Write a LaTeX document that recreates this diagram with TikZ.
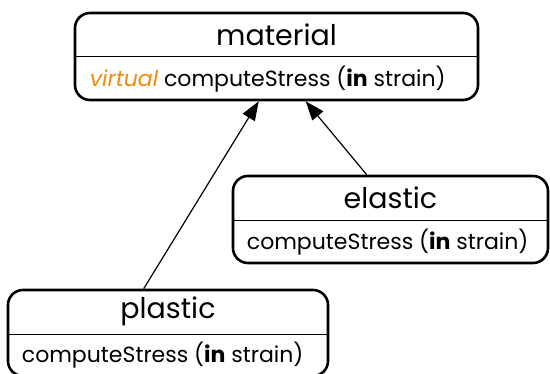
\documentclass[tikz,border=0pt]{standalone}
\usepackage{fontspec}
\setmainfont{Poppins}
\usetikzlibrary{arrows.meta,calc}
\definecolor{virtorange}{RGB}{240,140,10}
\tikzset{
  classbox/.style={draw, line width=2.6pt, rounded corners=15pt, inner sep=0pt},
  divider/.style={line width=1pt},
  classtitle/.style={font=\fontsize{28.5}{30}\selectfont, inner sep=0pt},
  method/.style={font=\fontsize{22}{24}\selectfont, inner sep=0pt, anchor=west},
  inherit/.style={line width=1.2pt, -{Triangle[length=19pt,width=14pt]}, shorten >=0pt}
}
\newcommand{\kw}[1]{\textbf{#1}}
\begin{document}
\begin{tikzpicture}[x=1pt,y=1pt]
\useasboundingbox (0,0) rectangle (550,373);
% material
\node[classbox, minimum width=403pt, minimum height=87pt] (mat) at (276.5,316.5) {};
\draw[divider] ($(mat.west)+(0,-0.5)$) coordinate (matdl) -- ($(mat.east)+(0,-0.5)$) coordinate (matdr);
\node[classtitle] (matT) at ($(mat.north)!0.5!(mat.center)+(0,-1)$) {material};
\node[method] (matM) at ($(mat.south west)!0.5!(mat.west)+(16,0)$) {\textcolor{virtorange}{\itshape virtual} computeStress (\kw{in} strain)};
% elastic
\node[classbox, minimum width=315pt, minimum height=87pt] (ela) at (390.5,153.5) {};
\draw[divider] ($(ela.west)+(0,-1.5)$) coordinate (eladl) -- ($(ela.east)+(0,-1.5)$) coordinate (eladr);
\node[classtitle] (elaT) at ($(ela.north)!0.5!(ela.center)+(0,-1)$) {elastic};
\node[method] (elaM) at ($(ela.south west)!0.5!(ela.west)+(15,0)$) {computeStress (\kw{in} strain)};
% plastic
\node[classbox, minimum width=320pt, minimum height=86pt] (pla) at (168,40) {};
\draw[divider] ($(pla.west)+(0,-1)$) coordinate (pladl) -- ($(pla.east)+(0,-1)$) coordinate (pladr);
\node[classtitle] (plaT) at ($(pla.north)!0.5!(pla.center)+(0,-1)$) {plastic};
\node[method] (plaM) at ($(pla.south west)!0.5!(pla.west)+(15,0)$) {computeStress (\kw{in} strain)};
% arrows
\coordinate (matA) at ($(mat.south west)+(185,0)$);
\coordinate (matB) at ($(mat.south west)+(232,0)$);
\coordinate (plaA) at ($(pla.north west)+(137,0)$);
\coordinate (elaA) at ($(ela.north west)+(135,0)$);
\draw[inherit] (plaA) -- (matA);
\draw[inherit] (elaA) -- (matB);
\end{tikzpicture}
\end{document}
